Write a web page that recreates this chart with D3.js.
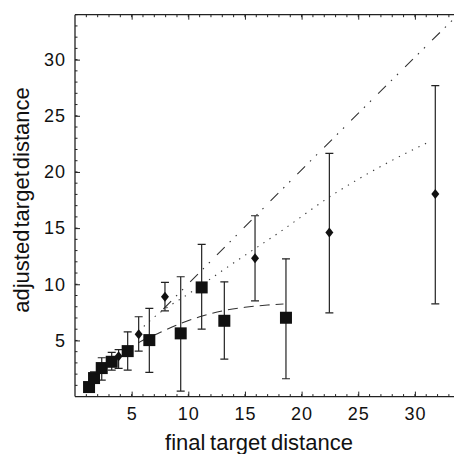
<!DOCTYPE html>
<html lang="en">
<head>
<meta charset="UTF-8">
<title>adjusted vs final target distance</title>
<style>
  body { margin: 0; background: #fff; }
  text { font-family: "Liberation Sans", Arial, Helvetica, sans-serif; fill: #111; }
</style>
</head>
<body>
<script src="https://d3js.org/d3.v7.min.js"></script>
<div id="chart"></div>
<script>
// squares
var sqX  = [1.24, 1.68, 2.36, 3.24, 4.65, 6.56, 9.33, 11.18, 13.18, 18.62];
var sqY  = [0.85, 1.65, 2.54, 3.10, 4.05, 5.03, 5.63, 9.72, 6.75, 7.02];
var sqLo = [0.85, 1.20, 1.47, 2.36, 2.36, 2.15, 0.49, 6.01, 3.34, 1.59];
var sqHi = [0.85, 2.20, 3.46, 3.94, 5.77, 7.85, 10.67, 13.55, 10.22, 12.27];

// diamonds
var dmX  = [3.85, 5.62, 7.94, 15.89, 22.45, 31.8];
var dmY  = [3.60, 5.54, 8.89, 12.31, 14.62, 18.03];
var dmLo = [2.51, 4.05, 7.64, 8.53, 7.46, 8.26];
var dmHi = [4.19, 7.11, 10.17, 16.10, 21.66, 27.68];

// fitted curves
var dashX = [1.2, 2.4, 4.0, 5.44, 7.5, 9.3, 11.0, 13.1, 15.0, 17.0, 18.4];
var dashY = [1.2, 2.4, 3.7, 4.7, 5.7, 6.5, 7.1, 7.65, 7.95, 8.15, 8.25];
var dotX  = [5.6, 6.9, 10.4, 14.0, 18.0, 22.8, 27.0, 31.3];
var dotY  = [5.8, 7.0, 9.4, 11.9, 14.6, 18.0, 20.5, 22.7];
var ddX   = [7.8, 21.6, 34];
var ddY   = [7.8, 21.8, 34.2];

var xTicks = [5, 10, 15, 20, 25, 30];
var yTicks = [5, 10, 15, 20, 25, 30];
var minorTicks = d3.range(1, 35);

var W = 454, H = 454;
var pLeft = 75, pTop = 14.7, pBottom = 396.6;

var svg = d3.select("#chart").append("svg")
    .attr("width", W).attr("height", H);

var x = d3.scaleLinear().domain([0, 34]).range([pLeft, pLeft + 34 * 11.33]);
var y = d3.scaleLinear().domain([0, 34]).range([pBottom, pTop]);

svg.append("clipPath").attr("id", "clip")
  .append("rect").attr("x", pLeft).attr("y", pTop)
  .attr("width", W - pLeft).attr("height", pBottom - pTop);

// axes (ticks point inward)
var gB = svg.append("g").attr("transform", "translate(0," + pBottom + ")")
    .call(d3.axisBottom(x).tickValues(xTicks).tickSize(-5).tickPadding(11).tickFormat(d3.format("d")));
var gT = svg.append("g").attr("transform", "translate(0," + pTop + ")")
    .call(d3.axisTop(x).tickValues(xTicks).tickSize(-5).tickFormat(""));
var gL = svg.append("g").attr("transform", "translate(" + pLeft + ",0)")
    .call(d3.axisLeft(y).tickValues(yTicks).tickSize(-5).tickPadding(9).tickFormat(d3.format("d")));

gB.selectAll(".minor").data(minorTicks).enter().append("line")
    .attr("x1", d => x(d)).attr("x2", d => x(d)).attr("y1", 0).attr("y2", -2.5)
    .attr("stroke", "#222");
gT.selectAll(".minor").data(minorTicks).enter().append("line")
    .attr("x1", d => x(d)).attr("x2", d => x(d)).attr("y1", 0).attr("y2", 2.5)
    .attr("stroke", "#222");
gL.selectAll(".minor").data(minorTicks).enter().append("line")
    .attr("y1", d => y(d)).attr("y2", d => y(d)).attr("x1", 0).attr("x2", 2.5)
    .attr("stroke", "#222");

[gB, gT, gL].forEach(function(g) {
  g.select(".domain").attr("stroke", "#222").attr("stroke-width", 1.3);
  g.selectAll(".tick line").attr("stroke", "#222");
  g.selectAll("text").attr("font-size", 18).attr("fill", "#1a1a1a")
    .attr("letter-spacing", 1)
    .attr("font-family", "Liberation Sans, Arial, sans-serif");
});
gT.select(".domain").attr("d", "M" + pLeft + ",0H" + W);
gB.select(".domain").attr("d", "M" + pLeft + ",0H" + W);
gL.select(".domain").attr("d", "M0," + pTop + "V" + pBottom);

// axis titles
svg.append("text")
    .attr("x", 259).attr("y", 450)
    .attr("text-anchor", "middle")
    .attr("font-size", 22)
    .attr("word-spacing", -1.5)
    .text("final target distance");

svg.append("text")
    .attr("transform", "translate(29,200) rotate(-90)")
    .attr("text-anchor", "middle")
    .attr("font-size", 22)
    .attr("word-spacing", -4)
    .text("adjusted target distance");

var plot = svg.append("g").attr("clip-path", "url(#clip)");

function curve(xs, ys, dash) {
  var pts = xs.map(function(d, i) { return [d, ys[i]]; });
  plot.append("path")
    .attr("d", d3.line().x(d => x(d[0])).y(d => y(d[1])).curve(d3.curveMonotoneX)(pts))
    .attr("fill", "none")
    .attr("stroke", "#333")
    .attr("stroke-width", 1.1)
    .attr("stroke-dasharray", dash);
}
curve(dashX, dashY, "10,6");
curve(dotX, dotY, "1.3,6");
curve(ddX, ddY, "11,7,1.5,7,1.5,10");

// error bars
function bars(xs, lo, hi) {
  var g = plot.append("g").attr("stroke", "#222").attr("stroke-width", 1.2);
  xs.forEach(function(d, i) {
    if (hi[i] - lo[i] < 0.01) return;
    g.append("line").attr("x1", x(d)).attr("x2", x(d)).attr("y1", y(lo[i])).attr("y2", y(hi[i]));
    g.append("line").attr("x1", x(d) - 4).attr("x2", x(d) + 4).attr("y1", y(lo[i])).attr("y2", y(lo[i]));
    g.append("line").attr("x1", x(d) - 4).attr("x2", x(d) + 4).attr("y1", y(hi[i])).attr("y2", y(hi[i]));
  });
}
bars(sqX, sqLo, sqHi);
bars(dmX, dmLo, dmHi);

// markers
plot.selectAll(".sq").data(sqX).enter().append("rect")
    .attr("x", d => x(d) - 6)
    .attr("y", (d, i) => y(sqY[i]) - 6)
    .attr("width", 12).attr("height", 12)
    .attr("fill", "#111");

plot.selectAll(".dm").data(dmX).enter().append("path")
    .attr("d", function(d, i) {
      var cx = x(d), cy = y(dmY[i]);
      return "M" + cx + "," + (cy - 5) + "L" + (cx + 4) + "," + cy +
             "L" + cx + "," + (cy + 5) + "L" + (cx - 4) + "," + cy + "Z";
    })
    .attr("fill", "#111");
</script>
</body>
</html>
